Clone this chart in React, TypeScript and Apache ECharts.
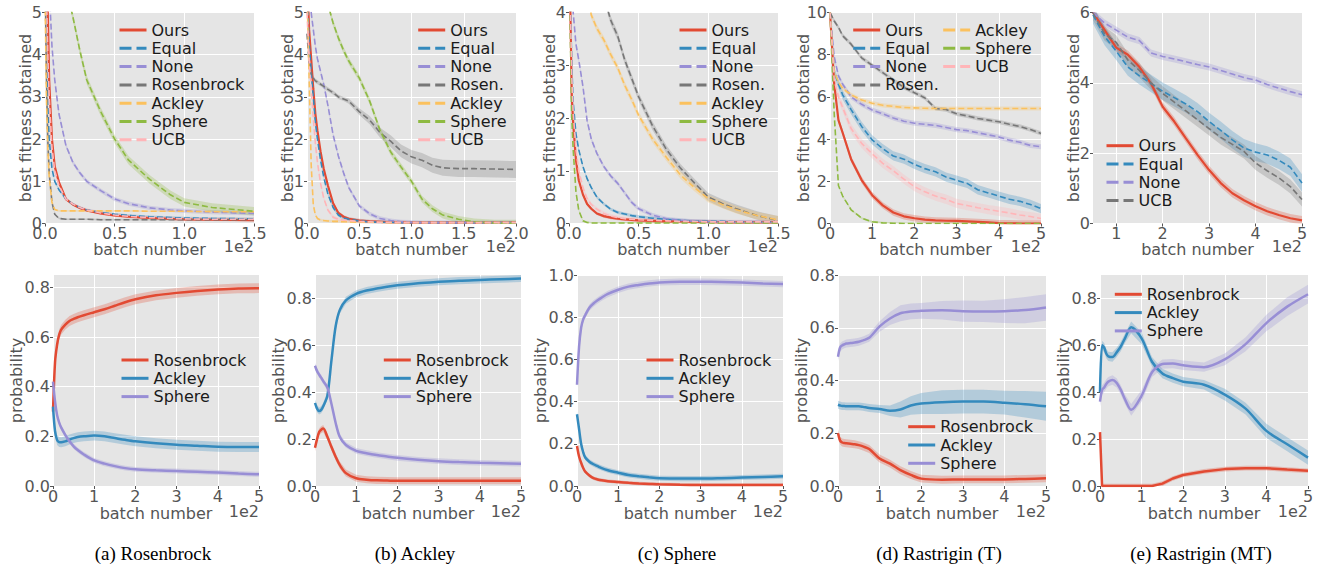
import { useEffect, useRef } from "react";
import * as echarts from "echarts";

const RED = "#E24A33";
const BLUE = "#348ABD";
const PURPLE = "#988ED5";
const GRAY = "#777777";
const YELLOW = "#FBC15E";
const GREEN = "#8EBA42";
const PINK = "#FFB5B8";
const FONT = "DejaVu Sans, sans-serif";

// ---------- Top row: best fitness obtained (x in units of 1e2 batches) ----------
// (a) Rosenbrock
const xA = [0, 0.01, 0.02, 0.03, 0.05, 0.07, 0.1, 0.15, 0.2, 0.25, 0.3, 0.4, 0.5, 0.6, 0.75, 0.9, 1.0, 1.2, 1.5];
const aOurs = [8, 6.5, 5.0, 3.4, 2.0, 1.35, 0.98, 0.58, 0.45, 0.37, 0.31, 0.24, 0.19, 0.16, 0.13, 0.11, 0.1, 0.09, 0.08];
const aEqual = [7, 4.5, 2.8, 2.0, 1.3, 1.0, 0.8, 0.58, 0.46, 0.38, 0.32, 0.26, 0.22, 0.19, 0.16, 0.14, 0.13, 0.12, 0.11];
const aNone = [9, 8, 7, 5.6, 4.2, 3.4, 2.6, 1.85, 1.45, 1.2, 1.0, 0.78, 0.58, 0.47, 0.37, 0.32, 0.3, 0.27, 0.24];
const aRosen = [6, 3.5, 2.0, 1.2, 0.5, 0.22, 0.12, 0.1, 0.1, 0.1, 0.1, 0.09, 0.09, 0.09, 0.09, 0.09, 0.09, 0.09, 0.09];
const aAckley = [5.5, 3.0, 1.8, 1.1, 0.5, 0.33, 0.3, 0.3, 0.3, 0.3, 0.3, 0.3, 0.3, 0.3, 0.29, 0.29, 0.29, 0.28, 0.28];
const aSphere = [20, 18, 16, 14.5, 12, 10, 8, 5.6, 4.9, 4.1, 3.4, 2.65, 2.0, 1.5, 1.05, 0.68, 0.5, 0.38, 0.29];
const aUcb = [7, 5.5, 4.0, 3.0, 1.8, 1.25, 0.9, 0.58, 0.46, 0.38, 0.32, 0.25, 0.2, 0.17, 0.14, 0.12, 0.11, 0.1, 0.1];

// (b) Ackley
const xB = [0, 0.02, 0.04, 0.06, 0.08, 0.1, 0.13, 0.16, 0.2, 0.25, 0.3, 0.35, 0.4, 0.5, 0.6, 0.7, 0.8, 0.9, 1.0, 1.1, 1.2, 1.3, 1.45, 1.6, 1.8, 2.0];
const bOurs = [6, 4.6, 3.9, 3.2, 2.6, 2.2, 1.7, 1.3, 0.9, 0.48, 0.25, 0.16, 0.11, 0.07, 0.05, 0.04, 0.03, 0.03, 0.02, 0.02, 0.02, 0.02, 0.02, 0.02, 0.02, 0.02];
const bEqual = [5.5, 4.3, 3.6, 3.0, 2.4, 2.0, 1.5, 1.1, 0.7, 0.38, 0.2, 0.13, 0.1, 0.06, 0.04, 0.03, 0.03, 0.02, 0.02, 0.02, 0.02, 0.02, 0.02, 0.02, 0.02, 0.02];
const bNone = [8, 6.5, 5.0, 4.6, 4.2, 3.9, 3.6, 3.3, 2.8, 2.1, 1.6, 1.2, 0.85, 0.42, 0.23, 0.12, 0.07, 0.04, 0.03, 0.02, 0.02, 0.02, 0.02, 0.02, 0.02, 0.02];
const bRosen = [4.5, 3.8, 3.55, 3.45, 3.38, 3.35, 3.3, 3.25, 3.18, 3.1, 3.0, 2.95, 2.9, 2.65, 2.45, 2.15, 1.95, 1.72, 1.58, 1.5, 1.38, 1.32, 1.3, 1.3, 1.29, 1.28];
const bRosenSd = [0.05, 0.05, 0.05, 0.05, 0.05, 0.05, 0.05, 0.05, 0.05, 0.05, 0.05, 0.05, 0.06, 0.08, 0.1, 0.12, 0.14, 0.15, 0.16, 0.17, 0.18, 0.19, 0.2, 0.2, 0.2, 0.2];
const bAckley = [5.5, 3.5, 1.4, 0.45, 0.2, 0.12, 0.08, 0.07, 0.06, 0.05, 0.05, 0.04, 0.04, 0.03, 0.03, 0.03, 0.02, 0.02, 0.02, 0.02, 0.02, 0.02, 0.02, 0.02, 0.02, 0.02];
const bSphere = [14, 12, 11, 10, 9, 8, 7, 6, 5.2, 4.75, 4.4, 4.1, 3.85, 3.45, 2.9, 2.2, 1.7, 1.34, 1.0, 0.58, 0.35, 0.2, 0.1, 0.04, 0.01, 0.01];
const bUcb = [5, 3.9, 3.2, 2.5, 1.9, 1.45, 0.95, 0.6, 0.32, 0.15, 0.1, 0.08, 0.07, 0.05, 0.04, 0.03, 0.03, 0.02, 0.02, 0.02, 0.02, 0.02, 0.02, 0.02, 0.02, 0.02];

// (c) Sphere
const xC = [0, 0.01, 0.02, 0.03, 0.05, 0.07, 0.1, 0.13, 0.16, 0.2, 0.25, 0.3, 0.35, 0.4, 0.45, 0.5, 0.6, 0.7, 0.8, 0.9, 1.0, 1.1, 1.2, 1.35, 1.5];
const cOurs = [6, 4.0, 2.4, 1.9, 1.2, 0.82, 0.55, 0.37, 0.28, 0.19, 0.14, 0.11, 0.09, 0.08, 0.07, 0.06, 0.05, 0.04, 0.04, 0.03, 0.03, 0.02, 0.02, 0.02, 0.02];
const cEqual = [6, 4.2, 3.0, 2.3, 1.7, 1.4, 1.08, 0.85, 0.68, 0.5, 0.37, 0.27, 0.21, 0.18, 0.15, 0.13, 0.1, 0.08, 0.06, 0.05, 0.04, 0.04, 0.03, 0.03, 0.03];
const cNone = [8, 6, 5, 4.0, 3.4, 3.1, 2.6, 1.95, 1.6, 1.33, 1.08, 0.9, 0.76, 0.58, 0.4, 0.28, 0.16, 0.09, 0.06, 0.04, 0.03, 0.02, 0.02, 0.02, 0.02];
const cRosen = [12, 11.5, 11, 10.5, 9.5, 8.5, 7.5, 6.6, 5.8, 5.0, 4.3, 3.85, 3.55, 3.1, 2.75, 2.4, 1.85, 1.4, 1.05, 0.77, 0.5, 0.38, 0.28, 0.15, 0.06];
const cAckley = [12, 10, 9, 8.3, 7, 6, 5, 4.4, 3.95, 3.7, 3.48, 3.2, 2.95, 2.62, 2.35, 2.05, 1.6, 1.25, 0.92, 0.68, 0.47, 0.36, 0.26, 0.15, 0.07];
const cSphere = [6, 3.5, 2.0, 1.4, 0.6, 0.25, 0.05, 0.02, 0.01, 0.01, 0.01, 0.01, 0.01, 0.01, 0.01, 0.01, 0.01, 0.01, 0.01, 0.01, 0.01, 0.01, 0.01, 0.01, 0.01];
const cUcb = [6, 4.1, 2.8, 2.1, 1.4, 1.0, 0.68, 0.47, 0.36, 0.27, 0.19, 0.14, 0.11, 0.09, 0.08, 0.07, 0.06, 0.05, 0.04, 0.04, 0.03, 0.03, 0.03, 0.03, 0.03];

// (d) Rastrigin (T)
const xD = [0, 0.1, 0.2, 0.3, 0.5, 0.75, 1.0, 1.25, 1.5, 1.75, 2.0, 2.25, 2.5, 2.75, 3.0, 3.25, 3.5, 3.75, 4.0, 4.25, 4.5, 4.75, 5.0];
const dOurs = [10, 6.6, 4.9, 4.3, 3.05, 2.06, 1.34, 0.86, 0.52, 0.34, 0.25, 0.18, 0.15, 0.13, 0.12, 0.1, 0.08, 0.05, 0.02, 0.01, 0.0, 0.0, 0.0];
const dEqual = [10, 7.2, 6.6, 6.1, 5.4, 4.6, 3.96, 3.55, 3.2, 3.05, 2.8, 2.6, 2.45, 2.2, 2.05, 1.9, 1.6, 1.45, 1.3, 1.15, 1.05, 0.9, 0.71];
const dNone = [10, 7.9, 7.0, 6.6, 6.0, 5.65, 5.38, 5.2, 5.0, 4.85, 4.75, 4.7, 4.65, 4.55, 4.45, 4.4, 4.3, 4.2, 4.1, 3.95, 3.85, 3.7, 3.64];
const dRosen = [10, 9.6, 9.3, 8.9, 8.5, 7.85, 7.5, 7.15, 6.8, 6.45, 6.2, 5.95, 5.45, 5.4, 5.2, 5.1, 4.98, 4.9, 4.82, 4.7, 4.6, 4.45, 4.27];
const dAckley = [10, 7.2, 6.7, 6.4, 6.1, 5.85, 5.7, 5.6, 5.55, 5.5, 5.48, 5.46, 5.45, 5.45, 5.45, 5.45, 5.45, 5.45, 5.45, 5.45, 5.45, 5.45, 5.45];
const dSphere = [10, 5.2, 1.8, 1.3, 0.65, 0.25, 0.08, 0.03, 0.01, 0, 0, 0, 0, 0, 0, 0, 0, 0, 0, 0, 0, 0, 0];
const dUcb = [10, 6.8, 6.0, 5.5, 4.5, 3.8, 3.3, 2.85, 2.5, 2.1, 1.75, 1.5, 1.3, 1.15, 0.95, 0.85, 0.75, 0.66, 0.58, 0.5, 0.4, 0.33, 0.24];

// (e) Rastrigin (MT)
const xE = [0.5, 0.75, 1.0, 1.25, 1.5, 1.75, 2.0, 2.25, 2.5, 2.75, 3.0, 3.25, 3.5, 3.75, 4.0, 4.25, 4.5, 4.75, 5.0];
const eOurs = [6.0, 5.5, 5.0, 4.8, 4.45, 3.98, 3.32, 2.9, 2.42, 1.95, 1.52, 1.15, 0.86, 0.66, 0.49, 0.35, 0.24, 0.15, 0.09];
const eEqual = [5.93, 5.32, 4.9, 4.45, 4.2, 3.98, 3.76, 3.58, 3.4, 3.18, 2.9, 2.65, 2.38, 2.15, 2.03, 1.95, 1.8, 1.6, 1.15];
const eNone = [6.0, 5.7, 5.5, 5.3, 5.2, 4.85, 4.75, 4.68, 4.6, 4.52, 4.45, 4.35, 4.25, 4.15, 4.08, 3.95, 3.85, 3.75, 3.66];
const eUcb = [5.98, 5.4, 5.15, 4.65, 4.35, 4.0, 3.7, 3.45, 3.2, 2.95, 2.7, 2.45, 2.25, 2.05, 1.72, 1.5, 1.3, 1.05, 0.68];

// ---------- Bottom row: probability ----------
const xP = [0, 0.05, 0.1, 0.15, 0.2, 0.3, 0.4, 0.5, 0.6, 0.75, 1.0, 1.25, 1.5, 1.75, 2.0, 2.5, 3.0, 3.5, 4.0, 4.5, 5.0];
const pARos = [0.3, 0.5, 0.57, 0.61, 0.63, 0.65, 0.665, 0.673, 0.68, 0.688, 0.7, 0.712, 0.726, 0.74, 0.752, 0.768, 0.778, 0.786, 0.792, 0.796, 0.797];
const pAAck = [0.32, 0.22, 0.185, 0.177, 0.176, 0.18, 0.187, 0.193, 0.197, 0.2, 0.203, 0.2, 0.193, 0.186, 0.18, 0.172, 0.166, 0.162, 0.158, 0.157, 0.157];
const pASph = [0.42, 0.34, 0.285, 0.255, 0.235, 0.205, 0.18, 0.16, 0.145, 0.127, 0.103, 0.09, 0.08, 0.072, 0.067, 0.063, 0.06, 0.057, 0.054, 0.05, 0.047];

const pBRos = [0.163, 0.2, 0.23, 0.24, 0.245, 0.21, 0.166, 0.125, 0.09, 0.055, 0.033, 0.027, 0.024, 0.023, 0.022, 0.022, 0.022, 0.022, 0.022, 0.022, 0.022];
const pBAck = [0.354, 0.33, 0.32, 0.325, 0.34, 0.385, 0.537, 0.68, 0.75, 0.792, 0.82, 0.834, 0.842, 0.85, 0.856, 0.865, 0.871, 0.876, 0.879, 0.882, 0.885];
const pBSph = [0.513, 0.49, 0.475, 0.462, 0.447, 0.42, 0.35, 0.27, 0.21, 0.175, 0.15, 0.14, 0.132, 0.126, 0.12, 0.112, 0.106, 0.102, 0.099, 0.097, 0.095];

const pCRos = [0.19, 0.14, 0.11, 0.085, 0.068, 0.05, 0.037, 0.031, 0.027, 0.023, 0.019, 0.015, 0.012, 0.01, 0.008, 0.006, 0.005, 0.005, 0.005, 0.005, 0.005];
const pCAck = [0.34, 0.27, 0.2, 0.16, 0.135, 0.115, 0.103, 0.094, 0.085, 0.075, 0.063, 0.052, 0.046, 0.041, 0.037, 0.035, 0.035, 0.037, 0.04, 0.043, 0.046];
const pCSph = [0.48, 0.66, 0.75, 0.79, 0.81, 0.845, 0.865, 0.88, 0.893, 0.91, 0.93, 0.945, 0.953, 0.96, 0.965, 0.968, 0.968, 0.967, 0.964, 0.96, 0.957];

const pDRos = [0.2, 0.172, 0.165, 0.163, 0.162, 0.16, 0.158, 0.155, 0.15, 0.14, 0.104, 0.085, 0.06, 0.042, 0.028, 0.024, 0.025, 0.025, 0.025, 0.027, 0.029];
const pDAck = [0.308, 0.305, 0.303, 0.303, 0.302, 0.302, 0.302, 0.302, 0.3, 0.296, 0.292, 0.285, 0.29, 0.305, 0.313, 0.318, 0.32, 0.32, 0.316, 0.31, 0.302];
const pDSph = [0.49, 0.525, 0.533, 0.537, 0.54, 0.542, 0.544, 0.547, 0.552, 0.562, 0.605, 0.635, 0.655, 0.662, 0.664, 0.666, 0.663, 0.662, 0.663, 0.667, 0.677];
const pDAckSd = [0.015, 0.015, 0.015, 0.015, 0.015, 0.015, 0.015, 0.015, 0.015, 0.015, 0.015, 0.02, 0.03, 0.035, 0.04, 0.045, 0.045, 0.045, 0.045, 0.05, 0.055];
const pDSphSd = [0.015, 0.015, 0.015, 0.015, 0.015, 0.015, 0.015, 0.015, 0.015, 0.015, 0.02, 0.025, 0.03, 0.03, 0.03, 0.035, 0.04, 0.04, 0.045, 0.05, 0.05];

const pERos = [0.23, 0, 0, 0, 0, 0, 0, 0, 0, 0, 0, 0, 0.01, 0.032, 0.047, 0.062, 0.072, 0.076, 0.076, 0.07, 0.065];
const pEAck = [0.4, 0.6, 0.59, 0.565, 0.553, 0.55, 0.57, 0.595, 0.63, 0.677, 0.63, 0.53, 0.48, 0.46, 0.445, 0.432, 0.39, 0.33, 0.235, 0.178, 0.121];
const pESph = [0.36, 0.41, 0.42, 0.435, 0.445, 0.452, 0.44, 0.41, 0.37, 0.325, 0.385, 0.485, 0.52, 0.522, 0.515, 0.507, 0.54, 0.605, 0.695, 0.765, 0.818];
const pEAckSd = [0.02, 0.02, 0.02, 0.02, 0.02, 0.02, 0.02, 0.02, 0.02, 0.025, 0.025, 0.02, 0.02, 0.02, 0.02, 0.02, 0.025, 0.025, 0.03, 0.03, 0.03];
const pESphSd = [0.02, 0.02, 0.02, 0.02, 0.02, 0.02, 0.02, 0.02, 0.02, 0.025, 0.025, 0.02, 0.02, 0.02, 0.02, 0.02, 0.025, 0.03, 0.035, 0.04, 0.04];

const CAPTIONS = ["(a) Rosenbrock", "(b) Ackley", "(c) Sphere", "(d) Rastrigin (T)", "(e) Rastrigin (MT)"];

type Curve = { id: string; color: string; dashed: boolean; vals: number[]; sd: number | number[]; smooth?: number | false };

const c = (id: string, color: string, dashed: boolean, vals: number[], sd: number | number[], smooth?: number | false): Curve => ({ id, color, dashed, vals, sd, smooth });

const panels: { xs: number[]; curves: Curve[]; smooth: number | false; solidW: number; dashW: number }[] = [
  { xs: xA, smooth: false, solidW: 2.2, dashW: 1.6, curves: [
    c("ta|Ours", RED, false, aOurs, 0.03), c("ta|Equal", BLUE, true, aEqual, 0.03), c("ta|None", PURPLE, true, aNone, 0.05),
    c("ta|Rosenbrock", GRAY, true, aRosen, 0.02), c("ta|Ackley", YELLOW, true, aAckley, 0.02), c("ta|Sphere", GREEN, true, aSphere, 0.1),
    c("ta|UCB", PINK, true, aUcb, 0.04) ] },
  { xs: xB, smooth: false, solidW: 2.2, dashW: 1.6, curves: [
    c("tb|Ours", RED, false, bOurs, 0.04), c("tb|Equal", BLUE, true, bEqual, 0.04), c("tb|None", PURPLE, true, bNone, 0.05),
    c("tb|Rosen.", GRAY, true, bRosen, bRosenSd), c("tb|Ackley", YELLOW, true, bAckley, 0.03), c("tb|Sphere", GREEN, true, bSphere, 0.08),
    c("tb|UCB", PINK, true, bUcb, 0.04) ] },
  { xs: xC, smooth: false, solidW: 2.2, dashW: 1.6, curves: [
    c("tc|Ours", RED, false, cOurs, 0.03), c("tc|Equal", BLUE, true, cEqual, 0.03), c("tc|None", PURPLE, true, cNone, 0.04),
    c("tc|Rosen.", GRAY, true, cRosen, 0.08), c("tc|Ackley", YELLOW, true, cAckley, 0.07), c("tc|Sphere", GREEN, true, cSphere, 0.02),
    c("tc|UCB", PINK, true, cUcb, 0.04) ] },
  { xs: xD, smooth: false, solidW: 2.2, dashW: 1.6, curves: [
    c("td|Ours", RED, false, dOurs, 0.15), c("td|Equal", BLUE, true, dEqual, 0.22), c("td|None", PURPLE, true, dNone, 0.12),
    c("td|Rosen.", GRAY, true, dRosen, 0.1), c("td|Ackley", YELLOW, true, dAckley, 0.1), c("td|Sphere", GREEN, true, dSphere, 0.05),
    c("td|UCB", PINK, true, dUcb, 0.22) ] },
  { xs: xE, smooth: false, solidW: 2.2, dashW: 1.6, curves: [
    c("te|Ours", RED, false, eOurs, 0.12), c("te|Equal", BLUE, true, eEqual, 0.25), c("te|None", PURPLE, true, eNone, 0.1),
    c("te|UCB", GRAY, true, eUcb, 0.2) ] },
  { xs: xP, smooth: 0.3, solidW: 2.5, dashW: 2.5, curves: [
    c("pa|Rosenbrock", RED, false, pARos, 0.02), c("pa|Ackley", BLUE, false, pAAck, 0.02), c("pa|Sphere", PURPLE, false, pASph, 0.01) ] },
  { xs: xP, smooth: 0.3, solidW: 2.5, dashW: 2.5, curves: [
    c("pb|Rosenbrock", RED, false, pBRos, 0.015), c("pb|Ackley", BLUE, false, pBAck, 0.015), c("pb|Sphere", PURPLE, false, pBSph, 0.012) ] },
  { xs: xP, smooth: 0.3, solidW: 2.5, dashW: 2.5, curves: [
    c("pc|Rosenbrock", RED, false, pCRos, 0.008), c("pc|Ackley", BLUE, false, pCAck, 0.012), c("pc|Sphere", PURPLE, false, pCSph, 0.015) ] },
  { xs: xP, smooth: 0.3, solidW: 2.5, dashW: 2.5, curves: [
    c("pd|Rosenbrock", RED, false, pDRos, 0.015), c("pd|Ackley", BLUE, false, pDAck, pDAckSd), c("pd|Sphere", PURPLE, false, pDSph, pDSphSd) ] },
  { xs: xP, smooth: 0.3, solidW: 2.5, dashW: 2.5, curves: [
    c("pe|Rosenbrock", RED, false, pERos, 0.01, false), c("pe|Ackley", BLUE, false, pEAck, pEAckSd), c("pe|Sphere", PURPLE, false, pESph, pESphSd) ] },
];

// layout (pixels)
const GRID_LEFT = [45, 307, 569, 830, 1093, 53, 315, 577, 838, 1100];
const GRID_W = [209, 209, 209, 211, 209, 206, 206, 206, 208, 208];
const ROW_TOP = [12.5, 275];
const ROW_H = 211;

type AxisCfg = { min: number; max: number; interval?: number; dec: number; hideMin?: boolean; hideMax?: boolean };
const XCFG: AxisCfg[] = [
  { min: 0, max: 1.5, interval: 0.5, dec: 1 }, { min: 0, max: 2, interval: 0.5, dec: 1 }, { min: 0, max: 1.5, interval: 0.5, dec: 1 },
  { min: 0, max: 5, interval: 1, dec: 0 }, { min: 0.5, max: 5, dec: 0, hideMin: true },
  { min: 0, max: 5, interval: 1, dec: 0 }, { min: 0, max: 5, interval: 1, dec: 0 }, { min: 0, max: 5, interval: 1, dec: 0 },
  { min: 0, max: 5, interval: 1, dec: 0 }, { min: 0, max: 5, interval: 1, dec: 0 },
];
const YCFG: AxisCfg[] = [
  { min: 0, max: 5, interval: 1, dec: 0 }, { min: 0, max: 5, interval: 1, dec: 0 }, { min: 0, max: 4, interval: 1, dec: 0 },
  { min: 0, max: 10, interval: 2, dec: 0 }, { min: 0, max: 6, interval: 2, dec: 0 },
  { min: 0, max: 0.85, interval: 0.2, dec: 1, hideMax: true }, { min: 0, max: 0.9, interval: 0.2, dec: 1, hideMax: true },
  { min: 0, max: 1.0, interval: 0.2, dec: 1 }, { min: 0, max: 0.8, interval: 0.2, dec: 1 },
  { min: 0, max: 0.9, interval: 0.2, dec: 1, hideMax: true },
];
const Y_NAME_GAP = [11.5, 11.5, 12, 19, 11.5, 29, 29, 29, 29, 29];

// legends: [panel, first curve, end curve, left, first row center y]
const LEGENDS: [number, number, number, number, number][] = [
  [0, 0, 7, 118, 30], [1, 0, 7, 416.7, 30], [2, 0, 7, 678, 30],
  [3, 0, 4, 851.7, 30], [3, 4, 7, 941.7, 30], [4, 0, 4, 1105, 145.7],
  [5, 0, 3, 120, 360], [6, 0, 3, 382.3, 360], [7, 0, 3, 645, 360], [8, 0, 3, 906.7, 426.7], [9, 0, 3, 1113.3, 294.3],
];

function buildOption() {
  const grids: any[] = [];
  const xAxes: any[] = [];
  const yAxes: any[] = [];
  const bands: any[] = [];
  const lines: any[] = [];
  const graphics: any[] = [];
  const tickText = { color: "#555555", fontSize: 16, fontFamily: FONT };

  panels.forEach((p, i) => {
    const row = i < 5 ? 0 : 1;
    grids.push({
      left: GRID_LEFT[i], top: ROW_TOP[row], width: GRID_W[i], height: ROW_H,
      show: true, backgroundColor: "#E5E5E5", borderWidth: 0, containLabel: false, outerBoundsMode: "none",
    });
    const xc = XCFG[i];
    const yc = YCFG[i];
    xAxes.push({
      type: "value", gridIndex: i, min: xc.min, max: xc.max, interval: xc.interval,
      axisLine: { show: false },
      axisTick: { show: true, length: 3, lineStyle: { color: "#555555" } },
      splitLine: { show: true, lineStyle: { color: "#FFFFFF", width: 1 }, showMinLine: !xc.hideMin },
      axisLabel: { ...tickText, margin: 2, showMinLabel: !xc.hideMin, formatter: (v: number) => v.toFixed(xc.dec) },
      name: "batch number", nameLocation: "middle", nameGap: row === 0 ? 18 : 19, nameMoveOverlap: false,
      nameTextStyle: { color: "#555555", fontSize: 16, fontFamily: FONT },
    });
    yAxes.push({
      type: "value", gridIndex: i, min: yc.min, max: yc.max, interval: yc.interval,
      axisLine: { show: false },
      axisTick: { show: true, length: 3, lineStyle: { color: "#555555" } },
      splitLine: { show: true, lineStyle: { color: "#FFFFFF", width: 1 }, showMaxLine: !yc.hideMax },
      axisLabel: { ...tickText, margin: 3, showMaxLabel: !yc.hideMax, formatter: (v: number) => v.toFixed(yc.dec) },
      name: row === 0 ? "best fitness obtained" : "probability", nameLocation: "middle", nameGap: Y_NAME_GAP[i],
      nameMoveOverlap: false,
      nameTextStyle: { color: "#555555", fontSize: 16, fontFamily: FONT },
    });

    p.curves.forEach((cv) => {
      const sdAt = (k: number) => (Array.isArray(cv.sd) ? cv.sd[k] : cv.sd);
      const sm = cv.smooth === undefined ? p.smooth : cv.smooth;
      // shaded band (mean ± spread) drawn through the axes' own scales
      bands.push({
        type: "custom", name: cv.id + "#band", xAxisIndex: i, yAxisIndex: i, clip: true, silent: true, z: 1,
        data: [[p.xs[0], cv.vals[0]]],
        renderItem: (_params: any, api: any) => {
          const upper = p.xs.map((x, k) => api.coord([x, cv.vals[k] + sdAt(k)]));
          const lower = p.xs.map((x, k) => api.coord([x, cv.vals[k] - sdAt(k)])).reverse();
          return {
            type: "polygon",
            shape: { points: upper.concat(lower) },
            style: { fill: cv.color, opacity: 0.28 },
          };
        },
      });
      lines.push({
        type: "line", name: cv.id, xAxisIndex: i, yAxisIndex: i, symbol: "none", smooth: sm, z: 3,
        lineStyle: { color: cv.color, width: cv.dashed ? p.dashW : p.solidW, type: cv.dashed ? [6, 3] : "solid" },
        itemStyle: { color: cv.color },
        data: p.xs.map((x, k) => [x, cv.vals[k]]),
      });
    });

    // offset text "1e2"
    graphics.push({
      type: "text", x: GRID_LEFT[i] + GRID_W[i], y: row === 0 ? 246 : 511, silent: true,
      style: { text: "1e2", fill: "#555555", fontSize: 16, fontFamily: FONT, align: "right", verticalAlign: "middle" },
    });
  });

  CAPTIONS.forEach((t, j) => {
    const cx = GRID_LEFT[5 + j] + GRID_W[5 + j] / 2 - 3;
    graphics.push({
      type: "text", x: cx, y: 553, silent: true,
      style: { text: t, fill: "#000000", fontSize: 19, fontFamily: "Liberation Serif, Times New Roman, serif", align: "center", verticalAlign: "middle" },
    });
  });

  const legends = LEGENDS.map(([pi, s, e, left, cy]) => {
    const cur = panels[pi].curves.slice(s, e);
    return {
      orient: "vertical", left, top: cy - 8, padding: 0, itemWidth: 27, itemHeight: 12, itemGap: 2.3,
      selectedMode: false,
      data: cur.map((cv) => ({
        name: cv.id,
        itemStyle: { opacity: 0 },
        lineStyle: { color: cv.color, width: 3, type: cv.dashed ? [12, 5] : "solid", opacity: 1 },
      })),
      formatter: (n: string) => n.split("|")[1],
      textStyle: { fontFamily: FONT, fontSize: 16, color: "#1a1a1a", lineHeight: 16 },
    };
  });

  return {
    animation: false,
    backgroundColor: "#FFFFFF",
    grid: grids,
    xAxis: xAxes,
    yAxis: yAxes,
    legend: legends,
    series: [...bands, ...lines],
    graphic: graphics,
  };
}

export default function App() {
  const ref = useRef<HTMLDivElement>(null);
  useEffect(() => {
    if (!ref.current) return;
    const chart = echarts.init(ref.current, null, { renderer: "svg" });
    chart.setOption(buildOption() as any);
    return () => chart.dispose();
  }, []);
  return (
    <div
      ref={ref}
      style={{ position: "absolute", left: 0, top: 0, width: 1325, height: 570, background: "#fff" }}
    />
  );
}
